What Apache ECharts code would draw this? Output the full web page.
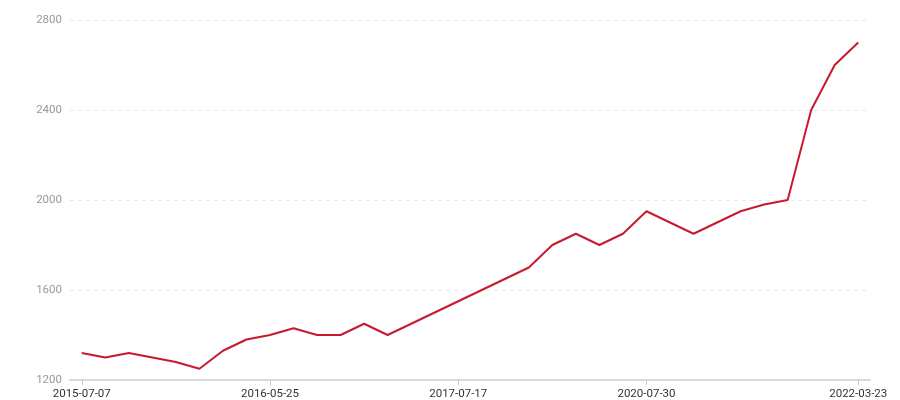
<!DOCTYPE html>
<html>
<head>
<meta charset="utf-8">
<script src="https://cdn.jsdelivr.net/npm/echarts@6/dist/echarts.min.js"></script>
<style>html,body{margin:0;padding:0;background:#fff}#c{width:900px;height:400px}</style>
</head>
<body>
<div id="c"></div>
<script>
var categories = [
  '2015-07-07','2015-08-20','2015-09-28','2015-11-05','2015-12-14','2016-01-22','2016-03-01','2016-04-12',
  '2016-05-25','2016-07-06','2016-08-18','2016-09-29','2016-11-10','2016-12-22','2017-03-02','2017-05-10',
  '2017-07-17','2017-10-20','2018-01-25','2018-05-08','2018-09-12','2019-01-17','2019-06-05','2019-12-10',
  '2020-07-30','2020-09-15','2020-11-03','2021-01-12','2021-03-18','2021-05-20','2021-08-05','2021-10-14',
  '2021-12-28','2022-03-23'
];
var values = [
  1320, 1300, 1320, 1300, 1280, 1250, 1330, 1380,
  1400, 1430, 1400, 1400, 1450, 1400, 1450, 1500,
  1550, 1600, 1650, 1700, 1800, 1850, 1800, 1850,
  1950, 1900, 1850, 1900, 1950, 1980, 2000, 2400,
  2600, 2700
];
var yMin = 1200, yMax = 2800, yStep = 400;
var labelIdx = [0, 8, 16, 24, 33];

var chart = echarts.init(document.getElementById('c'));
function showLabel(i){ return labelIdx.indexOf(i) >= 0; }
var FONT = 'Roboto';
chart.setOption({
  animation: false,
  grid: { left: 70, right: 30, top: 20, bottom: 20, containLabel: false },
  xAxis: {
    type: 'category',
    data: categories,
    boundaryGap: true,
    axisLine: { lineStyle: { color: '#d9d9d9', width: 2 } },
    axisTick: { show: true, alignWithLabel: true, interval: showLabel, length: 5, lineStyle: { color: '#cccccc' } },
    axisLabel: { interval: showLabel, color: '#333', fontSize: 11.5, margin: 8, fontFamily: FONT }
  },
  yAxis: {
    type: 'value',
    min: yMin, max: yMax, interval: yStep,
    axisLine: { show: false },
    axisTick: { show: false },
    axisLabel: { color: '#999', fontSize: 11.5, margin: 8, fontFamily: FONT, formatter: function(v){ return String(v); } },
    splitLine: { lineStyle: { color: '#e8e8e8', type: [4, 4] } }
  },
  series: [{
    type: 'line',
    data: values,
    showSymbol: false,
    symbol: 'none',
    lineStyle: { color: '#c8192e', width: 2 },
    itemStyle: { color: '#c8192e' }
  }]
});
</script>
</body>
</html>
